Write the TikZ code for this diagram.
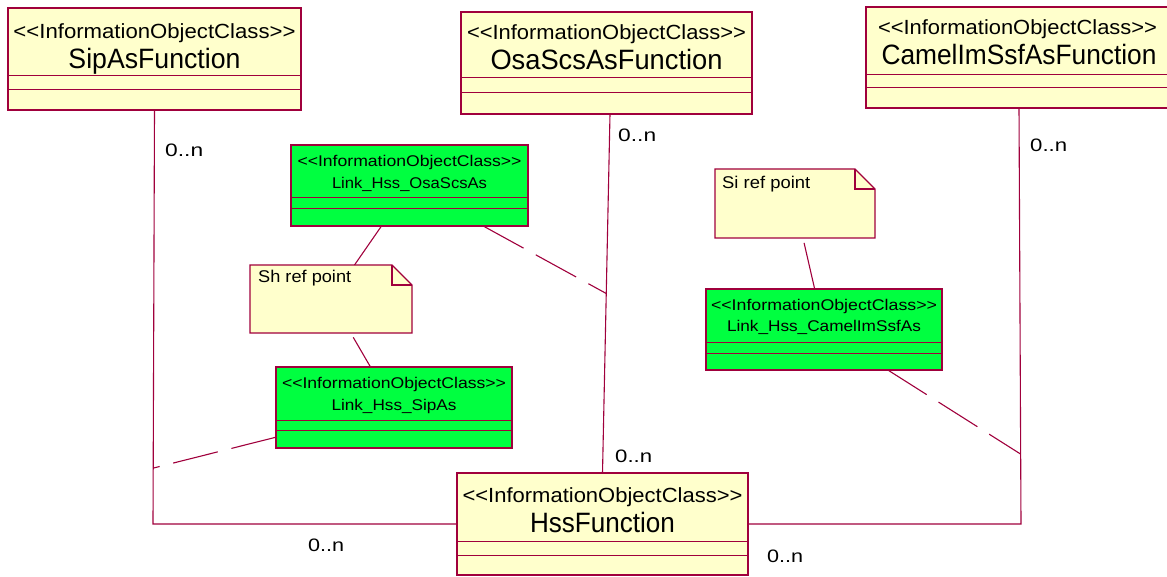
\documentclass[tikz,border=0pt]{standalone}
\usepackage{fontspec}
\setmainfont{Liberation Sans}
\usepackage{graphicx}
\definecolor{linec}{RGB}{160,0,60}
\definecolor{yfill}{RGB}{255,255,204}
\definecolor{gfill}{RGB}{0,255,64}
\newcommand{\fw}[2]{\resizebox{#1}{\height}{#2}}
\begin{document}
\begin{tikzpicture}[x=1pt,y=-1pt,
  cls/.style={draw=linec,line width=1.4pt,fill=yfill,rectangle,inner sep=0,outer sep=0},
  lnk/.style={draw=linec,line width=1.4pt,fill=gfill,rectangle,inner sep=0,outer sep=0},
  notebox/.style={rectangle,inner sep=0,outer sep=0},
  notepath/.style={draw=linec,line width=1.2pt,fill=yfill},
  divider/.style={draw=linec,line width=1pt},
  conn/.style={draw=linec,line width=1.1pt},
  assoccls/.style={draw=linec,line width=1.1pt,dash pattern=on 46pt off 14pt},
  stereo/.style={font=\fontsize{20.5}{22}\selectfont,inner sep=0,anchor=base},
  cname/.style={font=\fontsize{28}{30}\selectfont,inner sep=0,anchor=base},
  gstereo/.style={font=\fontsize{15.5}{17}\selectfont,inner sep=0,anchor=base},
  gname/.style={font=\fontsize{15.5}{17}\selectfont,inner sep=0,anchor=base},
  notetxt/.style={font=\fontsize{17}{19}\selectfont,inner sep=0,anchor=base west},
  mult/.style={font=\fontsize{18}{20}\selectfont,inner sep=0,anchor=base west}
]
\clip (0,0) rectangle (1167,577);

% ---------- big classes ----------
\node[cls,minimum width=293pt,minimum height=102pt] (sip) at (154.5,59) {};
\draw[divider] (8,76) -- (301,76) (8,90) -- (301,90);
\node[stereo] (sipst) at (154.5,38.5) {\fw{282pt}{<{}<InformationObjectClass>{}>}};
\node[cname] (sipnm) at (154.5,69) {\fw{172pt}{SipAsFunction}};

\node[cls,minimum width=291pt,minimum height=102pt] (osa) at (606.5,63) {};
\draw[divider] (461,78) -- (752,78) (461,93) -- (752,93);
\node[stereo] (osast) at (606.5,39.5) {\fw{279pt}{<{}<InformationObjectClass>{}>}};
\node[cname] (osanm) at (606.5,70) {\fw{232pt}{OsaScsAsFunction}};

\node[cls,minimum width=306pt,minimum height=101pt] (camel) at (1019,57.5) {};
\draw[divider] (866,75) -- (1172,75) (866,88) -- (1172,88);
\node[stereo] (camelst) at (1017.5,35) {\fw{279pt}{<{}<InformationObjectClass>{}>}};
\node[cname] (camelnm) at (1019,65) {\fw{275pt}{CamelImSsfAsFunction}};

\node[cls,minimum width=291pt,minimum height=102pt] (hss) at (602.5,524) {};
\draw[divider] (457,541) -- (748,541) (457,555) -- (748,555);
\node[stereo] (hssst) at (602.5,502) {\fw{280pt}{<{}<InformationObjectClass>{}>}};
\node[cname] (hssnm) at (602.5,532) {\fw{145pt}{HssFunction}};

% ---------- link classes ----------
\node[lnk,minimum width=237pt,minimum height=81pt] (lkosa) at (409.5,185.5) {};
\draw[divider] (291,198) -- (528,198) (291,209) -- (528,209);
\node[gstereo] (lkosast) at (409.5,166.7) {\fw{224pt}{<{}<InformationObjectClass>{}>}};
\node[gname] (lkosanm) at (409.5,188.3) {\fw{155pt}{Link\_Hss\_OsaScsAs}};

\node[lnk,minimum width=236pt,minimum height=81pt] (lksip) at (394,407.5) {};
\draw[divider] (276,420) -- (512,420) (276,430) -- (512,430);
\node[gstereo] (lksipst) at (394,388.3) {\fw{224pt}{<{}<InformationObjectClass>{}>}};
\node[gname] (lksipnm) at (394,410) {\fw{125pt}{Link\_Hss\_SipAs}};

\node[lnk,minimum width=236pt,minimum height=81pt] (lkcam) at (824,329.5) {};
\draw[divider] (706,342) -- (942,342) (706,353) -- (942,353);
\node[gstereo] (lkcamst) at (824,310) {\fw{226pt}{<{}<InformationObjectClass>{}>}};
\node[gname] (lkcamnm) at (824,331.7) {\fw{194pt}{Link\_Hss\_CamelImSsfAs}};

% ---------- notes ----------
\node[notebox,minimum width=162pt,minimum height=68pt] (shnote) at (331,299) {};
\draw[notepath] (shnote.north west) -- ([xshift=-20pt]shnote.north east) -- ([yshift=-20pt]shnote.north east) -- (shnote.south east) -- (shnote.south west) -- cycle;
\draw[notepath,fill=none] ([xshift=-20pt]shnote.north east) -- ([xshift=-20pt,yshift=-20pt]shnote.north east) -- ([yshift=-20pt]shnote.north east);
\node[notetxt] (shtxt) at (258,282.7) {\fw{93pt}{Sh ref point}};

\node[notebox,minimum width=160pt,minimum height=69pt] (sinote) at (795,203.5) {};
\draw[notepath] (sinote.north west) -- ([xshift=-20pt]sinote.north east) -- ([yshift=-20pt]sinote.north east) -- (sinote.south east) -- (sinote.south west) -- cycle;
\draw[notepath,fill=none] ([xshift=-20pt]sinote.north east) -- ([xshift=-20pt,yshift=-20pt]sinote.north east) -- ([yshift=-20pt]sinote.north east);
\node[notetxt] (sitxt) at (722,188.3) {\fw{88pt}{Si ref point}};

% ---------- associations ----------
\coordinate (cL) at (153,524);
\coordinate (cR) at (1021,524);
\coordinate (osaBot) at (610,114);
\draw[conn] (sip.south) -- (cL) -- (hss.west);
\draw[conn] (osaBot) -- (hss.north);
\draw[conn] (camel.south) -- (cR) -- (hss.east);

\path (sip.south) -- (cL) coordinate[pos=0.865] (mS);
\path (osaBot) -- (hss.north) coordinate[pos=0.5] (mO);
\path (camel.south) -- (cR) coordinate[pos=0.832] (mC);

% association-class links (dashed)
\draw[assoccls] (lkosa) -- (mO);
\draw[assoccls] (lksip) -- (mS);
\draw[assoccls] (lkcam) -- (mC);

% note anchors
\draw[conn] (lkosa) -- (shnote);
\draw[conn,shorten <=5pt] (shnote) -- (lksip);
\draw[conn,shorten <=5pt] (sinote) -- (lkcam);

% ---------- multiplicities ----------
\node[mult] (m1) at (165,157) {\fw{38pt}{0..n}};
\node[mult] (m2) at (618,142) {\fw{38pt}{0..n}};
\node[mult] (m3) at (1030,152) {\fw{37pt}{0..n}};
\node[mult] (m4) at (615,462) {\fw{37pt}{0..n}};
\node[mult] (m5) at (308,551) {\fw{36pt}{0..n}};
\node[mult] (m6) at (767,562) {\fw{36pt}{0..n}};
\end{tikzpicture}
\end{document}
